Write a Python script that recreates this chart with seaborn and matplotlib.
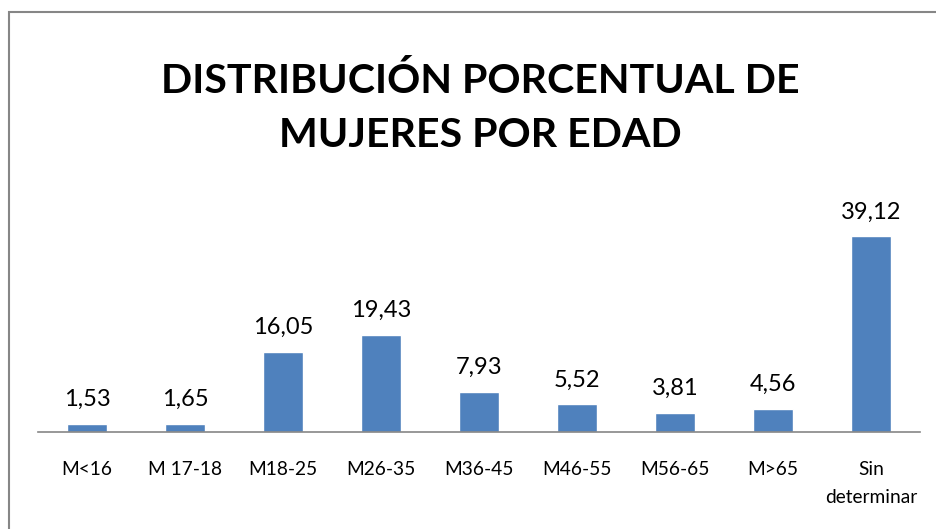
import matplotlib
matplotlib.use("Agg")
import matplotlib.pyplot as plt
import seaborn as sns
import pandas as pd
from matplotlib.patches import Rectangle

categories = ["M<16", "M 17-18", "M18-25", "M26-35", "M36-45", "M46-55", "M56-65", "M>65", "Sin\ndeterminar"]
values = [1.53, 1.65, 16.05, 19.43, 7.93, 5.52, 3.81, 4.56, 39.12]
value_labels = ["1,53", "1,65", "16,05", "19,43", "7,93", "5,52", "3,81", "4,56", "39,12"]
title_lines = ["DISTRIBUCIÓN PORCENTUAL DE", "MUJERES POR EDAD"]

sns.set_theme(style="white")
plt.rcParams["font.family"] = ["Lato", "DejaVu Sans"]

W, H = 936, 529
fig = plt.figure(figsize=(W / 100, H / 100), dpi=100)
ax = fig.add_axes([38 / W, (H - 432) / H, 882 / W, 250 / H])

df = pd.DataFrame({"cat": categories, "val": values})
sns.barplot(data=df, x="cat", y="val", color="#4F81BD", width=0.4, saturation=1, ax=ax)

ax.set_ylim(0, 50)
ax.set_xlim(-0.5, len(categories) - 0.5)
for s in ["top", "right", "left"]:
    ax.spines[s].set_visible(False)
ax.spines["bottom"].set_color("#868686")
ax.spines["bottom"].set_linewidth(1.2)
ax.set_yticks([])
ax.set_xlabel("")
ax.set_ylabel("")

ax.set_xticks(range(len(categories)))
ax.set_xticklabels(categories, fontsize=13.8, color="#000000", va="top", linespacing=1.75)
ax.tick_params(axis="x", which="major", length=0, pad=21)
ax.set_xticks([i - 0.5 for i in range(len(categories) + 1)], minor=True)
ax.tick_params(axis="x", which="minor", length=4.5, width=1.2, color="#868686", direction="out")

for i, (v, lab) in enumerate(zip(values, value_labels)):
    ax.annotate(lab, (i, v), xytext=(0, 13), textcoords="offset points",
                ha="center", va="baseline", fontsize=17, color="#000000")

for y_px, line in zip([93, 147], title_lines):
    fig.text(480 / W, 1 - y_px / H, line, ha="center", va="baseline", fontsize=29.6,
             fontweight="bold", color="#000000")

fig.patches.append(Rectangle((9 / W, -0.1), 1.2, 1.1 - 12 / H, transform=fig.transFigure,
                             fill=False, edgecolor="#868686", linewidth=1.5))

fig.savefig("out.png", dpi=100)
